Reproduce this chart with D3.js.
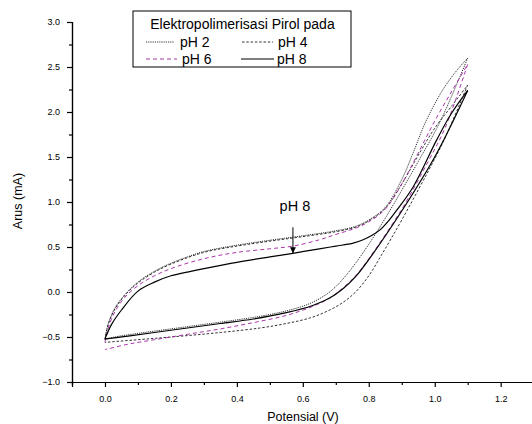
<!DOCTYPE html>
<html>
<head>
<meta charset="utf-8">
<script src="https://cdn.jsdelivr.net/npm/d3@7"></script>
<style>
  html, body { margin: 0; padding: 0; background: #fff; }
  svg { display: block; font-family: "Liberation Sans", Arial, sans-serif; }
</style>
</head>
<body>
<svg id="chart" width="532" height="424"></svg>
<script>
// ---- data (potential V, current mA) ----
const seriesNames = ["pH 2", "pH 4", "pH 6", "pH 8"];

const ph2Forward = [[0,-0.53],[0.01,-0.35],[0.03,-0.18],[0.06,-0.03],[0.1,0.11],[0.15,0.23],[0.2,0.32],[0.25,0.39],[0.3,0.45],[0.4,0.52],[0.5,0.575],[0.6,0.625],[0.7,0.68],[0.76,0.73],[0.8,0.8],[0.85,0.94],[0.9,1.25],[0.935,1.55],[0.97,1.87],[1.02,2.22],[1.06,2.43],[1.1,2.6]];
const ph2Reverse = [[1.1,2.6],[1.016,1.89],[0.95,1.45],[0.9,1.13],[0.85,0.82],[0.8,0.53],[0.76,0.32],[0.73,0.18],[0.7,0.06],[0.67,-0.03],[0.62,-0.13],[0.55,-0.21],[0.47,-0.27],[0.38,-0.32],[0.3,-0.36],[0.2,-0.41],[0.1,-0.46],[0.03,-0.5],[0,-0.53]];

const ph4Forward = [[0,-0.53],[0.01,-0.36],[0.03,-0.19],[0.06,-0.04],[0.1,0.1],[0.15,0.22],[0.2,0.31],[0.3,0.44],[0.4,0.51],[0.5,0.565],[0.6,0.615],[0.7,0.67],[0.76,0.72],[0.8,0.79],[0.85,0.93],[0.9,1.2],[0.955,1.55],[1.0,1.82],[1.05,2.06],[1.1,2.3]];
const ph4Reverse = [[1.1,2.3],[1.036,1.75],[1.0,1.48],[0.9,0.8],[0.84,0.42],[0.8,0.18],[0.76,0.0],[0.72,-0.12],[0.67,-0.22],[0.62,-0.29],[0.55,-0.35],[0.47,-0.4],[0.35,-0.45],[0.2,-0.5],[0.1,-0.53],[0,-0.56]];

const ph6Forward = [[0,-0.56],[0.01,-0.4],[0.03,-0.22],[0.06,-0.06],[0.1,0.07],[0.15,0.18],[0.2,0.26],[0.3,0.37],[0.4,0.44],[0.5,0.48],[0.57,0.51],[0.65,0.58],[0.7,0.64],[0.76,0.71],[0.8,0.78],[0.85,0.92],[0.9,1.2],[0.955,1.58],[1.0,1.9],[1.05,2.22],[1.1,2.53]];
const ph6Reverse = [[1.1,2.53],[1.031,1.82],[0.98,1.45],[0.9,0.92],[0.8,0.37],[0.76,0.18],[0.72,0.04],[0.68,-0.07],[0.63,-0.16],[0.55,-0.26],[0.45,-0.34],[0.35,-0.41],[0.25,-0.47],[0.15,-0.53],[0.07,-0.58],[0,-0.64]];

const ph8Forward = [[0,-0.52],[0.02,-0.36],[0.05,-0.2],[0.1,0.01],[0.15,0.11],[0.2,0.18],[0.26,0.23],[0.3,0.26],[0.4,0.33],[0.5,0.39],[0.57,0.43],[0.65,0.48],[0.7,0.51],[0.75,0.54],[0.783,0.58],[0.81,0.63],[0.834,0.69],[0.86,0.79],[0.885,0.91],[0.935,1.17],[1.006,1.69],[1.05,1.98],[1.1,2.24]];
const ph8Reverse = [[1.1,2.24],[1.0,1.5],[0.9,0.9],[0.8,0.36],[0.76,0.17],[0.72,0.03],[0.68,-0.07],[0.63,-0.15],[0.55,-0.23],[0.45,-0.3],[0.35,-0.35],[0.25,-0.4],[0.15,-0.45],[0.07,-0.49],[0,-0.52]];

const xTickValues = [0, 0.2, 0.4, 0.6, 0.8, 1.0, 1.2];
const xMinorValues = [-0.1, 0.1, 0.3, 0.5, 0.7, 0.9, 1.1, 1.3];
const yTickValues = [-1.0, -0.5, 0.0, 0.5, 1.0, 1.5, 2.0, 2.5, 3.0];
const yMinorValues = [-0.75, -0.25, 0.25, 0.75, 1.25, 1.75, 2.25, 2.75];

const annotationText = "pH 8";
const annotationPoint = [0.57, 0.43];
const legendTitle = "Elektropolimerisasi Pirol pada";

// ---- styles ----
const styles = {
  "pH 2": { color: "#000", width: 0.8, dash: "1.2,1" },
  "pH 4": { color: "#000", width: 0.8, dash: "2.5,1.8" },
  "pH 6": { color: "#a020a0", width: 0.9, dash: "4,3" },
  "pH 8": { color: "#000", width: 1.2, dash: null }
};
const loops = {
  "pH 2": [ph2Forward, ph2Reverse],
  "pH 4": [ph4Forward, ph4Reverse],
  "pH 6": [ph6Forward, ph6Reverse],
  "pH 8": [ph8Forward, ph8Reverse]
};

const svg = d3.select("#chart");
const x = d3.scaleLinear().domain([-0.1, 1.3]).range([72, 533.65]);
const y = d3.scaleLinear().domain([-1, 3]).range([382, 22]);

// axes
const xAxis = d3.axisBottom(x).tickValues(xTickValues).tickSize(5).tickFormat(d3.format(".1f"));
const xMinor = d3.axisBottom(x).tickValues(xMinorValues).tickSize(3).tickFormat("");
const yAxis = d3.axisLeft(y).tickValues(yTickValues).tickSize(5).tickFormat(d3.format(".1f"));
const yMinor = d3.axisLeft(y).tickValues(yMinorValues).tickSize(3).tickFormat("");

function styleAxis(g) {
  g.select(".domain").attr("stroke", "#000").attr("stroke-width", 1.2);
  g.selectAll(".tick line").attr("stroke", "#000").attr("stroke-width", 1.2);
  g.selectAll(".tick text").attr("font-size", 9).attr("fill", "#000")
    .attr("font-family", "'Liberation Sans', Arial, sans-serif");
}

svg.append("g").attr("transform", "translate(0,382)").call(xMinor).call(styleAxis);
svg.append("g").attr("transform", "translate(0,382)").call(xAxis).call(styleAxis)
  .selectAll(".tick text").attr("dy", "1.3em");
svg.append("g").attr("transform", "translate(72,0)").call(yMinor).call(styleAxis);
svg.append("g").attr("transform", "translate(72,0)").call(yAxis).call(styleAxis)
  .selectAll(".tick text").attr("dx", "-4");

// axis titles
svg.append("text").attr("x", 303).attr("y", 421).attr("text-anchor", "middle")
  .attr("font-size", 12.5).text("Potensial (V)");
svg.append("text").attr("transform", "translate(22,201) rotate(-90)").attr("text-anchor", "middle")
  .attr("font-size", 12.5).text("Arus (mA)");

// curves
const line = d3.line().x(d => x(d[0])).y(d => y(d[1])).curve(d3.curveCatmullRom.alpha(0.5));
const plot = svg.append("g");
seriesNames.forEach(name => {
  const s = styles[name];
  loops[name].forEach(branch => {
    plot.append("path").datum(branch).attr("d", line)
      .attr("fill", "none").attr("stroke", s.color).attr("stroke-width", s.width)
      .attr("stroke-dasharray", s.dash);
  });
});

// annotation
svg.append("defs").append("marker").attr("id", "arrow").attr("viewBox", "0 0 10 10")
  .attr("refX", 10).attr("refY", 5).attr("markerWidth", 6).attr("markerHeight", 8)
  .attr("markerUnits", "userSpaceOnUse").attr("orient", "auto")
  .append("path").attr("d", "M0,0 L10,5 L0,10 Z").attr("fill", "#000");
const ax = x(annotationPoint[0]), ay = y(annotationPoint[1]);
svg.append("line").attr("x1", ax).attr("x2", ax).attr("y1", ay - 26).attr("y2", ay)
  .attr("stroke", "#000").attr("stroke-width", 1).attr("marker-end", "url(#arrow)");
svg.append("text").attr("x", ax + 2).attr("y", ay - 42).attr("text-anchor", "middle")
  .attr("font-size", 14.5).text(annotationText);

// legend
const lg = svg.append("g");
lg.append("rect").attr("x", 133).attr("y", 11).attr("width", 218).attr("height", 56)
  .attr("fill", "#fff").attr("stroke", "#000").attr("stroke-width", 1);
lg.append("text").attr("x", 242.5).attr("y", 28.5).attr("text-anchor", "middle")
  .attr("font-size", 14).text(legendTitle);
const legendPos = [
  { name: "pH 2", x1: 146, x2: 174, tx: 180, y: 42, ty: 46.7 },
  { name: "pH 4", x1: 242, x2: 273, tx: 278, y: 42, ty: 46.7 },
  { name: "pH 6", x1: 146, x2: 177, tx: 182, y: 59, ty: 63.5 },
  { name: "pH 8", x1: 241, x2: 274, tx: 277, y: 59, ty: 63.5 }
];
legendPos.forEach(p => {
  const s = styles[p.name];
  lg.append("line").attr("x1", p.x1).attr("x2", p.x2).attr("y1", p.y).attr("y2", p.y)
    .attr("stroke", s.color).attr("stroke-width", s.width).attr("stroke-dasharray", s.dash);
  lg.append("text").attr("x", p.tx).attr("y", p.ty).attr("font-size", 14).text(p.name);
});
</script>
</body>
</html>
